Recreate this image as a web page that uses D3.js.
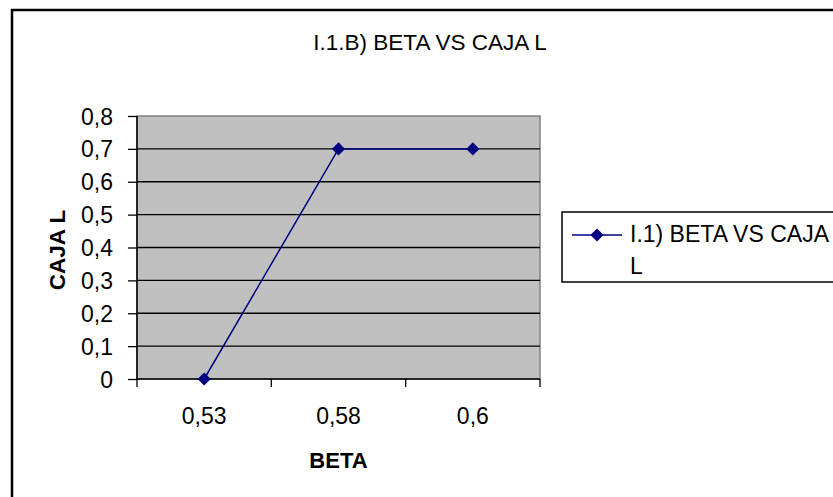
<!DOCTYPE html>
<html>
<head>
<meta charset="utf-8">
<script src="https://cdn.jsdelivr.net/npm/d3@7"></script>
<style>
  body { margin: 0; background: #fff; }
  svg { display: block; font-family: "Liberation Sans", Arial, sans-serif; }
  .axis path { display: none; }
  .axis line { stroke: #000; stroke-width: 1.3; }
  .axis text { font-size: 23px; fill: #000; }
</style>
</head>
<body>
<div id="viz"></div>
<script>
const betas = ["0,53", "0,58", "0,6"],
    cajaL = [0, 0.7, 0.7],
    yTicks = [0, 0.1, 0.2, 0.3, 0.4, 0.5, 0.6, 0.7, 0.8]

const chartTitle = "I.1.B) BETA VS CAJA L",
    xTitle = "BETA",
    yTitle = "CAJA L",
    seriesName = ["I.1) BETA VS CAJA", "L"]

const width = 833,
    height = 497,
    plot = {left: 137, top: 116, right: 540, bottom: 379},
    navy = "#000080"

const svg = d3.select("#viz").append("svg")
    .attr("width", width)
    .attr("height", height)

// chart border (runs off the right and bottom edges)
svg.append("rect")
    .attr("x", 12).attr("y", 10)
    .attr("width", 900).attr("height", 600)
    .attr("fill", "#fff")
    .attr("stroke", "#000")
    .attr("stroke-width", 2.5)

var x = d3.scaleBand()
    .domain(betas)
    .range([plot.left, plot.right])

var y = d3.scaleLinear()
    .domain([0, 0.8])
    .range([plot.bottom, plot.top])

// plot area
svg.append("rect")
    .attr("x", plot.left).attr("y", plot.top)
    .attr("width", plot.right - plot.left)
    .attr("height", plot.bottom - plot.top)
    .attr("fill", "#c0c0c0")
    .attr("stroke", "#808080")
    .attr("stroke-width", 1.5)

// gridlines
svg.append("g")
    .selectAll("line")
    .data(yTicks.filter(d => d > 0 && d < 0.8))
    .enter().append("line")
        .attr("x1", plot.left).attr("x2", plot.right)
        .attr("y1", d => y(d)).attr("y2", d => y(d))
        .attr("stroke", "#000")
        .attr("stroke-width", 1.3)

// y axis
svg.append("g")
    .attr("class", "axis")
    .attr("transform", "translate(" + plot.left + ",0)")
    .call(d3.axisLeft(y)
        .tickValues(yTicks)
        .tickSize(9)
        .tickPadding(15)
        .tickFormat(d => d3.format(".1~f")(d).replace(".", ",")))
    .selectAll("text").attr("dy", "0.35em")

// x axis labels
svg.append("g")
    .attr("class", "axis")
    .attr("transform", "translate(0," + plot.bottom + ")")
    .call(d3.axisBottom(x).tickSize(0).tickPadding(29))

// x tick marks sit on the category boundaries
svg.append("g")
    .selectAll("line")
    .data(d3.range(betas.length + 1))
    .enter().append("line")
        .attr("x1", i => plot.left + i * x.step())
        .attr("x2", i => plot.left + i * x.step())
        .attr("y1", plot.bottom).attr("y2", plot.bottom + 8)
        .attr("stroke", "#000")
        .attr("stroke-width", 1.3)

// axis lines
svg.append("line")
    .attr("x1", plot.left).attr("x2", plot.left)
    .attr("y1", plot.top).attr("y2", plot.bottom)
    .attr("stroke", "#000").attr("stroke-width", 1.5)
svg.append("line")
    .attr("x1", plot.left).attr("x2", plot.right)
    .attr("y1", plot.bottom).attr("y2", plot.bottom)
    .attr("stroke", "#000").attr("stroke-width", 1.5)

// series
const line = d3.line()
    .x((d, i) => x(betas[i]) + x.bandwidth() / 2)
    .y(d => y(d))

svg.append("path")
    .datum(cajaL)
    .attr("d", line)
    .attr("fill", "none")
    .attr("stroke", navy)
    .attr("stroke-width", 1.5)

const diamond = d3.symbol().type(d3.symbolDiamond2).size(110)

svg.append("g")
    .selectAll("path")
    .data(cajaL)
    .enter().append("path")
        .attr("d", diamond)
        .attr("transform", (d, i) =>
            "translate(" + (x(betas[i]) + x.bandwidth() / 2) + "," + y(d) + ")")
        .attr("fill", navy)

// titles
svg.append("text")
    .attr("x", 430).attr("y", 50)
    .attr("text-anchor", "middle")
    .style("font-size", "22.5px")
    .text(chartTitle)

svg.append("text")
    .attr("x", (plot.left + plot.right) / 2).attr("y", 468)
    .attr("text-anchor", "middle")
    .style("font-size", "22px")
    .style("font-weight", "bold")
    .text(xTitle)

svg.append("text")
    .attr("transform", "translate(65,250) rotate(-90)")
    .attr("text-anchor", "middle")
    .style("font-size", "22.5px")
    .style("font-weight", "bold")
    .text(yTitle)

// legend
const legend = svg.append("g")

legend.append("rect")
    .attr("x", 562).attr("y", 212)
    .attr("width", 400).attr("height", 70)
    .attr("fill", "#fff")
    .attr("stroke", "#000")
    .attr("stroke-width", 1.5)

legend.append("line")
    .attr("x1", 572).attr("x2", 622)
    .attr("y1", 235).attr("y2", 235)
    .attr("stroke", navy)
    .attr("stroke-width", 1.5)

legend.append("path")
    .attr("d", diamond)
    .attr("transform", "translate(597,235)")
    .attr("fill", navy)

legend.selectAll("text")
    .data(seriesName)
    .enter().append("text")
        .attr("x", 630)
        .attr("y", (d, i) => 242 + i * 32)
        .style("font-size", "23px")
        .text(d => d)
</script>
</body>
</html>
